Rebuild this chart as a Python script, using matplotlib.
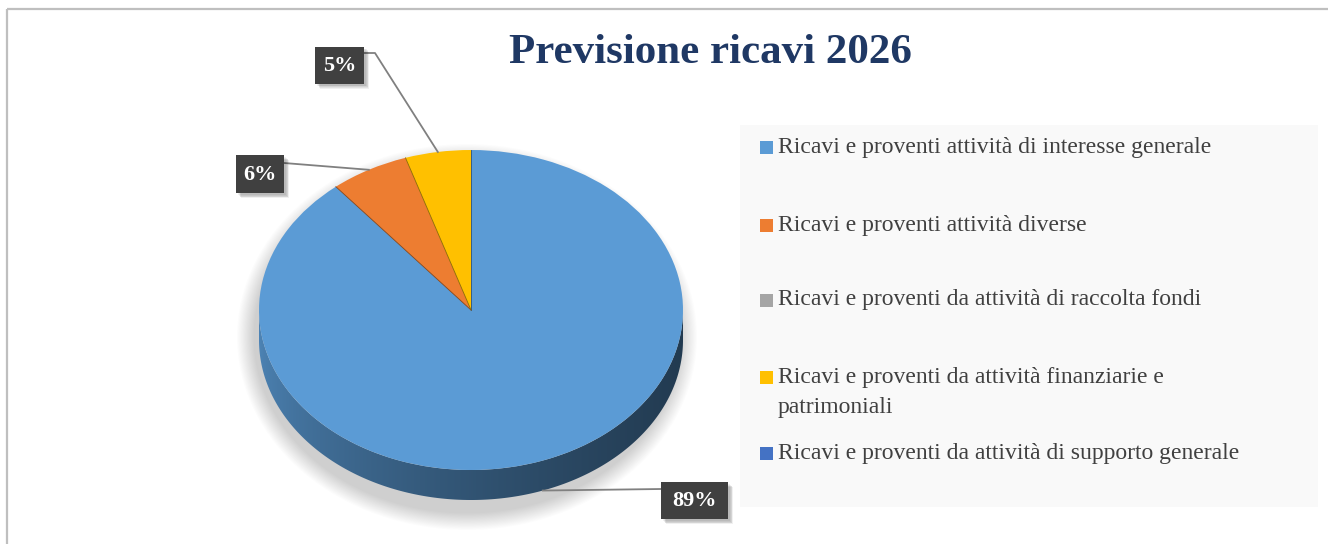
import numpy as np
import matplotlib
matplotlib.use("Agg")
import matplotlib.pyplot as plt
from matplotlib.patches import Rectangle, Polygon, Ellipse
from matplotlib.colors import to_rgb

# ---------------- data ----------------
title = "Previsione ricavi 2026"
categories = [
    "Ricavi e proventi attività di interesse generale",
    "Ricavi e proventi attività diverse",
    "Ricavi e proventi da attività di raccolta fondi",
    "Ricavi e proventi da attività finanziarie e\npatrimoniali",
    "Ricavi e proventi da attività di supporto generale",
]
values = [89, 6, 0, 5, 0]
colors = ["#5B9BD5", "#ED7D31", "#A5A5A5", "#FFC000", "#4472C4"]

# ---------------- layout (pixels) ----------------
W, H = 1328, 544
CX, CY, RX, RY, DEPTH = 471, 310, 212, 160, 30
FONT = "Liberation Serif"

fig = plt.figure(figsize=(W / 100, H / 100), dpi=100)
fig.patch.set_facecolor("white")

# background overlay (border, legend)
bg = fig.add_axes([0, 0, 1, 1], zorder=0)
bg.set_xlim(0, W); bg.set_ylim(H, 0); bg.axis("off")
bg.plot([7, W], [9, 9], color="#BFBFBF", lw=1.6, solid_capstyle="butt")
bg.plot([7, 7], [9, H], color="#BFBFBF", lw=1.6, solid_capstyle="butt")
bg.add_patch(Rectangle((740, 125), 578, 382, facecolor="#F9F9F9", edgecolor="none"))

# ---------------- pie axes ----------------
d = DEPTH / RY
pax = fig.add_axes([(CX - RX) / W, 1 - (CY + RY + DEPTH) / H, 2 * RX / W, (2 * RY + DEPTH) / H], zorder=1)

# soft shadow
for i in range(16):
    s = 18 - i * 1.1
    e = Ellipse((-4 / RX, -(d / 2) - 12 / RY), 2 * (RX + s) / RX, 2 * (RY + s) / RY + d,
                facecolor="black", edgecolor="none", alpha=0.012, clip_on=False, zorder=0)
    pax.add_patch(e)

wedges, _ = pax.pie(values, colors=colors, startangle=90, counterclock=False, radius=1,
                    wedgeprops=dict(linewidth=0))
for w, c in zip(wedges, colors):
    w.set_zorder(3)
# thin separators between slices
total = float(sum(values))
cum = np.concatenate([[0], np.cumsum(values)]) / total
for k in range(len(values)):
    if values[k] == 0:
        continue
    a = np.radians(90 - cum[k] * 360)
    pax.plot([0, np.cos(a)], [0, np.sin(a)], color=tuple(np.array(to_rgb(colors[k])) * 0.55),
             lw=0.6, zorder=4)
pax.set_aspect("auto")
pax.axis("off")

# side walls (visible front half), one per slice, with horizontal shading
xs = np.linspace(-1, 1, 300)
shade = 0.85 - 0.47 * ((xs + 1) / 2) ** 0.6
for k, c in enumerate(colors):
    if values[k] == 0:
        continue
    t1 = 90 - cum[k + 1] * 360
    t2 = 90 - cum[k] * 360
    t = np.radians(np.linspace(t1, t2, 600))
    vis = np.sin(t) <= 0
    if not vis.any():
        continue
    idx = np.where(vis)[0]
    runs = np.split(idx, np.where(np.diff(idx) > 1)[0] + 1)
    rgb = np.array(to_rgb(c))
    img = np.clip(shade[None, :, None] * rgb[None, None, :], 0, 1)
    for r in runs:
        tt = t[r]
        top = np.column_stack([np.cos(tt), np.sin(tt)])
        bot = np.column_stack([np.cos(tt[::-1]), np.sin(tt[::-1]) - d])
        poly = Polygon(np.vstack([top, bot]), closed=True, facecolor="none", edgecolor="none")
        pax.add_patch(poly)
        im = pax.imshow(img, extent=[-1, 1, -1 - d, 1], aspect="auto", zorder=2,
                        interpolation="bilinear")
        im.set_clip_path(poly)
pax.set_xlim(-1, 1)
pax.set_ylim(-1 - d, 1)

# ---------------- overlay (labels, title, legend) ----------------
ov = fig.add_axes([0, 0, 1, 1], zorder=3)
ov.set_xlim(0, W); ov.set_ylim(H, 0); ov.axis("off")
ov.patch.set_alpha(0)

ov.text(710, 63, title, ha="center", va="baseline", fontsize=31, fontweight="bold",
        color="#1F3864", family=FONT)

# data labels: box center, size, leader line start (layout)
label_layout = {
    0: dict(box=(694.5, 500.5, 67, 37), path=[(661, 489)]),
    1: dict(box=(260, 174, 48, 38), path=[(284, 163)]),
    3: dict(box=(339.5, 65, 49, 37), path=[(364, 53), (375, 53)]),
}
for k, lay in label_layout.items():
    frac0, frac1 = cum[k], cum[k + 1]
    m = np.radians(90 - (frac0 + frac1) / 2 * 360)
    ax_x = CX + RX * np.cos(m)
    ax_y = CY - RY * np.sin(m) + (DEPTH if np.sin(m) < 0 else 0)
    pts = lay["path"] + [(ax_x, ax_y)]
    ov.plot([p[0] for p in pts], [p[1] for p in pts], color="#808080", lw=1.3, zorder=4)
    bx, by, bw, bh = lay["box"]
    for j in range(5):
        ov.add_patch(Rectangle((bx - bw / 2 + 2 + j * 0.8, by - bh / 2 + 2 + j * 0.8), bw, bh,
                               facecolor="black", edgecolor="none", alpha=0.06, zorder=5))
    ov.add_patch(Rectangle((bx - bw / 2, by - bh / 2), bw, bh, facecolor="#404040",
                           edgecolor="none", zorder=6))
    pct = f"{round(values[k] / total * 100)}%"
    ov.text(bx, by + 1, pct, ha="center", va="center", fontsize=16, fontweight="bold",
            color="white", family=FONT, zorder=7)

# legend
leg_y = [147, 225, 300, 377, 453]
line_gap = 30
for lab, c, y in zip(categories, colors, leg_y):
    ov.add_patch(Rectangle((760, y - 6), 13, 13, facecolor=c, edgecolor="none"))
    for li, part in enumerate(lab.split("\n")):
        ov.text(778, y + li * line_gap, part, ha="left", va="center", fontsize=17,
                color="#404040", family=FONT)

fig.savefig("out.png", dpi=100, facecolor="white")
